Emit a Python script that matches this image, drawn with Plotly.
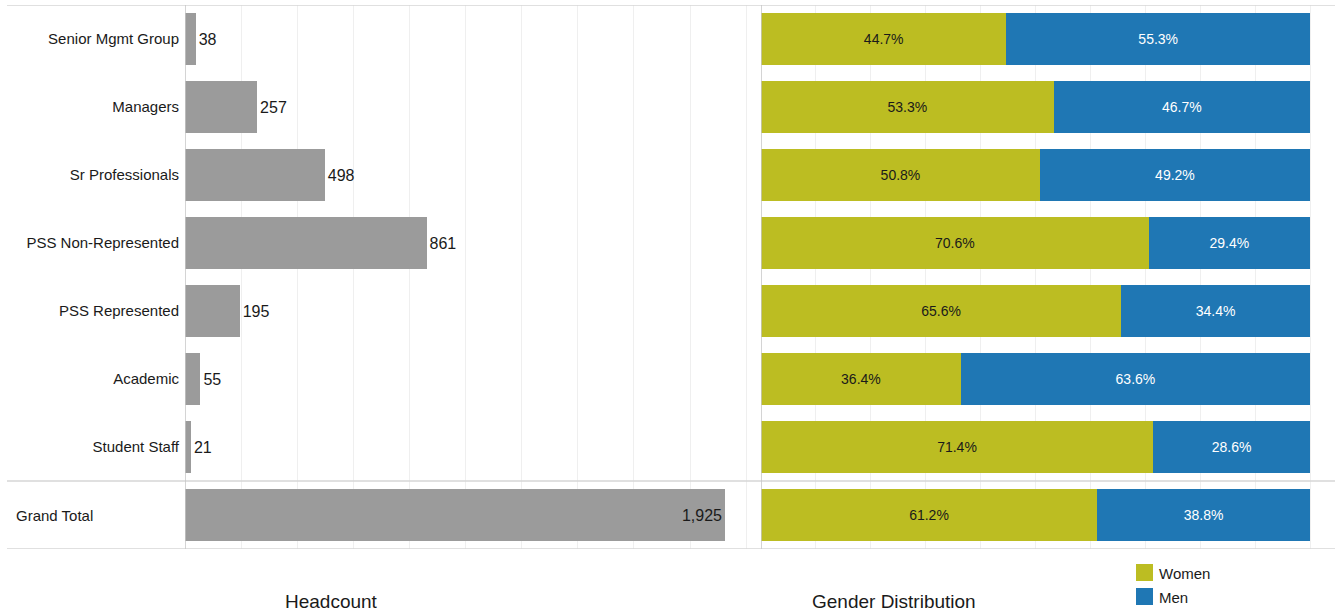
import plotly.graph_objects as go

# Staff groups, headcount and gender split
groups = ["Senior Mgmt Group", "Managers", "Sr Professionals", "PSS Non-Represented",
          "PSS Represented", "Academic", "Student Staff", "Grand Total"]
headcount = [38, 257, 498, 861, 195, 55, 21, 1925]
women_pct = [44.7, 53.3, 50.8, 70.6, 65.6, 36.4, 71.4, 61.2]
men_pct = [55.3, 46.7, 49.2, 29.4, 34.4, 63.6, 28.6, 38.8]

W, H = 1335, 612
FONT = "Liberation Sans, Arial, sans-serif"
GRAY_BAR = "#9b9b9b"
OLIVE = "#bcbd22"
BLUE = "#1f77b4"
GRID = "#efefef"
RULE = "#d6d6d6"
AXIS = "#c6c6c6"


def px_x(p):
    return p / W


def px_y(p):
    return 1 - p / H


fig = go.Figure()

# Headcount bars (left panel)
fig.add_trace(go.Bar(
    x=headcount, y=groups, orientation="h", xaxis="x", yaxis="y",
    marker=dict(color=GRAY_BAR, line=dict(width=0)),
    text=[f"{v:,}" for v in headcount],
    textposition=["outside"] * 7 + ["inside"],
    insidetextanchor="end",
    textfont=dict(family=FONT, size=16, color="#1a1a1a"),
    outsidetextfont=dict(family=FONT, size=16, color="#1a1a1a"),
    insidetextfont=dict(family=FONT, size=16, color="#1a1a1a"),
    cliponaxis=False, showlegend=False, hoverinfo="skip",
))

# Gender distribution bars (right panel)
fig.add_trace(go.Bar(
    x=women_pct, y=groups, orientation="h", xaxis="x2", yaxis="y", name="Women",
    marker=dict(color=OLIVE, line=dict(width=0)),
    text=[f"{v:.1f}%" for v in women_pct], textposition="inside",
    insidetextanchor="middle",
    textfont=dict(family=FONT, size=14, color="#1a1a1a"),
    showlegend=False, hoverinfo="skip",
))
fig.add_trace(go.Bar(
    x=men_pct, y=groups, orientation="h", xaxis="x2", yaxis="y", name="Men",
    marker=dict(color=BLUE, line=dict(width=0)),
    text=[f"{v:.1f}%" for v in men_pct], textposition="inside",
    insidetextanchor="middle",
    textfont=dict(family=FONT, size=14, color="white"),
    showlegend=False, hoverinfo="skip",
))

row_px = 68
top_px, bottom_px = 5, 549
y_bottom = -0.5 + (bottom_px - top_px) / row_px

shapes = []
# Horizontal rules: top, above grand total, below grand total
for yv in (-0.5, 6.5, 7.5):
    shapes.append(dict(type="line", xref="paper", yref="y", x0=px_x(7), x1=1,
                       y0=yv, y1=yv, line=dict(color=RULE, width=1.5), layer="above"))
# Vertical axis lines at the zero of each panel
for xr in ("x", "x2"):
    shapes.append(dict(type="line", xref=xr, yref="y", x0=0, x1=0,
                       y0=-0.5, y1=y_bottom, line=dict(color=AXIS, width=1.5), layer="above"))

# Legend swatches
annotations = []
for i, (lab, col) in enumerate([("Women", OLIVE), ("Men", BLUE)]):
    y0 = 564 + 24 * i
    shapes.append(dict(type="rect", xref="paper", yref="paper",
                       x0=px_x(1136), x1=px_x(1153), y0=px_y(y0), y1=px_y(y0 + 17),
                       fillcolor=col, line=dict(width=0)))
    annotations.append(dict(text=lab, xref="paper", yref="paper", x=px_x(1157),
                            y=px_y(y0 + 9), xanchor="left", yanchor="middle",
                            showarrow=False, font=dict(family=FONT, size=15, color="#1a1a1a")))

annotations.append(dict(text="Grand Total", xref="paper", yref="y", x=px_x(14), y="Grand Total",
                        xanchor="left", yanchor="middle", showarrow=False,
                        font=dict(family=FONT, size=15, color="#1a1a1a")))
annotations.append(dict(text="Headcount", xref="paper", yref="paper", x=px_x(331.5), y=px_y(601),
                        xanchor="center", yanchor="middle", showarrow=False,
                        font=dict(family=FONT, size=19, color="#1a1a1a")))
annotations.append(dict(text="Gender Distribution", xref="paper", yref="paper", x=px_x(893.5),
                        y=px_y(601), xanchor="center", yanchor="middle", showarrow=False,
                        font=dict(family=FONT, size=19, color="#1a1a1a")))

fig.update_layout(
    width=W, height=H,
    margin=dict(l=0, r=0, t=0, b=0),
    paper_bgcolor="white", plot_bgcolor="white",
    barmode="stack", bargap=0.235,
    font=dict(family=FONT, color="#1a1a1a"),
    xaxis=dict(domain=[px_x(185), px_x(761)], range=[0, 2053], dtick=200, tick0=0,
               showgrid=True, gridcolor=GRID, gridwidth=1, showticklabels=False,
               zeroline=False, showline=False, anchor="y", fixedrange=True),
    xaxis2=dict(domain=[px_x(761), 1], range=[0, 104.55], dtick=10, tick0=0,
                showgrid=True, gridcolor=GRID, gridwidth=1, showticklabels=False,
                zeroline=False, showline=False, anchor="y", fixedrange=True),
    yaxis=dict(domain=[px_y(bottom_px), px_y(top_px)], range=[y_bottom, -0.5],
               type="category", categoryorder="array", categoryarray=groups,
               tickvals=groups[:7], ticktext=groups[:7],
               tickfont=dict(family=FONT, size=15, color="#1a1a1a"),
               ticks="", ticklabelstandoff=5, showgrid=False, zeroline=False,
               showline=False, anchor="x", fixedrange=True),
    shapes=shapes,
    annotations=annotations,
)

fig.write_html("out.html")
